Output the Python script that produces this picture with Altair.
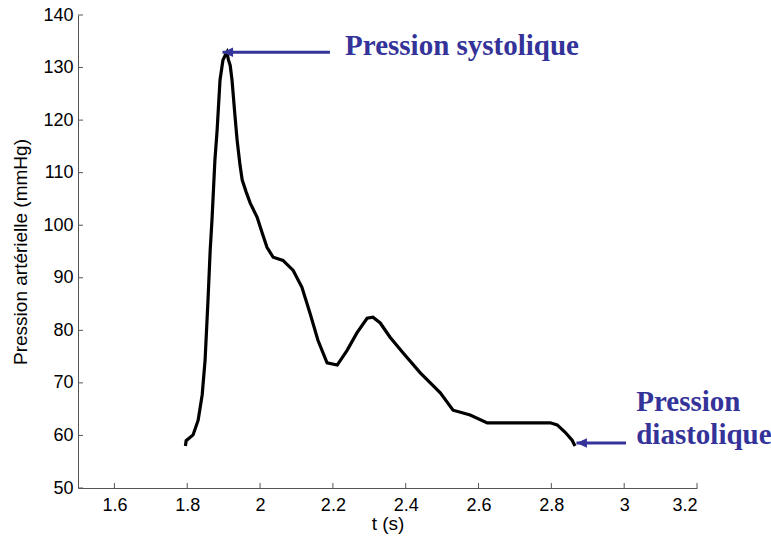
import altair as alt
import pandas as pd

# Pressure trace
t_vals = [1.795, 1.797, 1.816, 1.830, 1.841, 1.849, 1.857, 1.863, 1.868, 1.876, 1.882,
          1.890, 1.898, 1.904, 1.909, 1.913, 1.918, 1.923, 1.931, 1.937, 1.945, 1.951,
          1.962, 1.973, 1.992, 2.005, 2.019, 2.036, 2.063, 2.091, 2.115, 2.137, 2.159,
          2.184, 2.212, 2.239, 2.266, 2.294, 2.310, 2.330, 2.357, 2.393, 2.440, 2.495,
          2.530, 2.577, 2.624, 2.714, 2.797, 2.816, 2.838, 2.857, 2.865]
p_vals = [58.0, 59.0, 60.1, 62.9, 67.7, 74.3, 85.7, 95.2, 101.0, 112.4, 118.0,
          127.6, 131.4, 132.3, 132.9, 131.5, 130.4, 127.6, 120.9, 116.2, 111.4, 108.6,
          106.3, 104.2, 101.5, 98.7, 95.8, 93.9, 93.3, 91.4, 88.2, 83.3, 78.1,
          73.8, 73.4, 76.2, 79.5, 82.3, 82.5, 81.4, 78.7, 75.7, 71.9, 68.1,
          64.8, 63.9, 62.4, 62.4, 62.4, 62.0, 60.6, 59.1, 58.0]

x_ticks = [1.6, 1.8, 2.0, 2.2, 2.4, 2.6, 2.8, 3.0, 3.2]
y_ticks = [50, 60, 70, 80, 90, 100, 110, 120, 130, 140]

# Annotations
arrow_start_t = [2.192, 3.005]
arrow_tip_t = [1.897, 2.869]
arrow_p = [132.9, 58.55]
label_text = ["Pression systolique", "Pression", "diastolique"]
label_t = [2.2335, 3.033, 3.033]
label_p = [132.3, 64.6, 58.4]

W, H = 619, 473
BLUE = "#333399"

df = pd.DataFrame({"t": t_vals, "p": p_vals})
arrows = pd.DataFrame({"t0": arrow_start_t, "t1": arrow_tip_t, "p": arrow_p})
labels = pd.DataFrame({"text": label_text, "t": label_t, "p": label_p})
xt = pd.DataFrame({"v": x_ticks})
yt = pd.DataFrame({"v": y_ticks})

xscale = alt.Scale(domain=[1.5, 3.2], nice=False, zero=False)
yscale = alt.Scale(domain=[50, 140], nice=False, zero=False)

line = alt.Chart(df).mark_line(color="black", strokeWidth=3.2, strokeJoin="miter").encode(
    x=alt.X("t:Q", scale=xscale,
            axis=alt.Axis(title="t (s)", values=x_ticks, ticks=False, grid=False,
                          labelExpr="format(datum.value, '~g')")),
    y=alt.Y("p:Q", scale=yscale,
            axis=alt.Axis(title="Pression artérielle (mmHg)", values=y_ticks,
                          ticks=False, grid=False)),
)

xtick_marks = alt.Chart(xt).mark_rule(color="#555555", strokeWidth=1).encode(
    x=alt.X("v:Q", scale=xscale), y=alt.value(H), y2=alt.value(H - 5))
ytick_marks = alt.Chart(yt).mark_rule(color="#555555", strokeWidth=1).encode(
    y=alt.Y("v:Q", scale=yscale), x=alt.value(0), x2=alt.value(5))

shafts = alt.Chart(arrows).mark_rule(color=BLUE, strokeWidth=3).encode(
    x=alt.X("t0:Q", scale=xscale), x2="t1:Q", y=alt.Y("p:Q", scale=yscale))
heads = alt.Chart(arrows).mark_point(
    shape="M0,0L2,-0.9L2,0.9Z", filled=True, color=BLUE, opacity=1, size=110,
    strokeWidth=0).encode(
    x=alt.X("t1:Q", scale=xscale), y=alt.Y("p:Q", scale=yscale))

texts = alt.Chart(labels).mark_text(
    align="left", baseline="alphabetic", font="Liberation Serif", fontWeight="bold",
    fontSize=29, color=BLUE).encode(
    x=alt.X("t:Q", scale=xscale), y=alt.Y("p:Q", scale=yscale), text="text:N")

chart = alt.layer(line, xtick_marks, ytick_marks, shafts, heads, texts).properties(
    width=W, height=H,
    autosize=alt.AutoSizeParams(type="none"),
    padding={"left": 78, "top": 15, "right": 74, "bottom": 53},
    background="white",
).configure_view(stroke=None).configure_axis(
    domainColor="#555555", domainWidth=1,
    labelFont="Liberation Sans", labelFontSize=18, labelColor="black",
    titleFont="Liberation Sans", titleFontSize=19, titleFontWeight="normal",
    titleColor="black",
).configure_axisX(labelPadding=8, titlePadding=0).configure_axisY(
    labelPadding=5, titlePadding=12)

chart.save("out.html", embed_options={"renderer": "svg", "actions": False})
